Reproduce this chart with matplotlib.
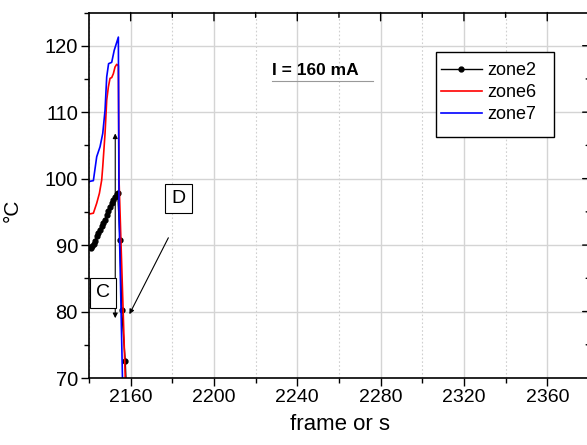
import matplotlib
matplotlib.use("Agg")
import matplotlib.pyplot as plt
from matplotlib.ticker import MultipleLocator
from matplotlib.patches import Rectangle

plt.rcParams['font.family'] = ['Liberation Sans', 'DejaVu Sans']

# zone2 (black dots), zone6 (red), zone7 (blue)
z2_x = [2140.8, 2141.6, 2142.3, 2142.9, 2143.7, 2144.5, 2145.3, 2146.1, 2146.9,
        2147.7, 2148.5, 2149.3, 2150.1, 2150.9, 2151.7, 2152.5, 2153.3, 2153.8,
        2154.9, 2155.7, 2157.4, 2158.5]
z2_y = [89.6, 89.8, 90.1, 90.6, 91.3, 91.8, 92.3, 92.8, 93.3,
        93.8, 94.6, 95.1, 95.8, 96.3, 96.8, 97.3, 97.7, 97.9,
        90.7, 80.2, 72.5, 64.0]

z6_x = [2140.0, 2140.5, 2142.1, 2143.7, 2145.0, 2146.1, 2146.6, 2147.7, 2148.5,
        2149.3, 2150.1, 2150.9, 2151.7, 2152.5, 2153.3, 2154.1, 2154.4, 2157.6]
z6_y = [94.7, 94.7, 94.8, 96.3, 97.8, 99.8, 101.8, 106.8, 111.8,
        113.8, 115.1, 115.2, 115.8, 116.8, 117.2, 117.0, 100.0, 68.0]

z7_x = [2140.0, 2140.5, 2142.1, 2143.7, 2145.3, 2146.6, 2147.7, 2148.5, 2149.4,
        2150.9, 2152.1, 2153.3, 2154.1, 2154.4, 2156.2]
z7_y = [99.5, 99.6, 99.7, 103.3, 104.8, 106.8, 110.3, 115.3, 117.3,
        117.5, 119.3, 120.5, 121.3, 95.0, 68.0]

fig = plt.figure(figsize=(5.87, 4.45), dpi=100)
ax = fig.add_axes([89/587, 1-378/445, 502/587, 365.5/445])

ax.plot(z2_x, z2_y, color='black', marker='o', markersize=3.5, lw=1.0, label='zone2')
ax.plot(z6_x, z6_y, color='#ff0000', lw=1.2, label='zone6')
ax.plot(z7_x, z7_y, color='#0000ff', lw=1.2, label='zone7')

ax.set_xlim(2140, 2381)
ax.set_ylim(70, 125)
ax.xaxis.set_minor_locator(MultipleLocator(20))
ax.yaxis.set_minor_locator(MultipleLocator(5))
ax.set_xticks(range(2160, 2361, 40))
ax.set_yticks(range(70, 121, 10))

ax.grid(True, which='major', color='#d4d4d4', lw=1.0)
ax.grid(True, which='minor', axis='x', color='#cfcfcf', lw=0.8, ls=(0, (1.5, 2)))
ax.set_axisbelow(True)

ax.tick_params(which='major', direction='out', length=6, width=1, labelsize=14, pad=2,
               top=False, right=False)
ax.tick_params(axis='y', which='major', labelsize=14.5)
ax.tick_params(which='minor', direction='out', length=3.5, width=1, top=False, right=False)
for s in ax.spines.values():
    s.set_linewidth(1.2)

# inward ticks on top and right spines
for pos in range(2160, 2380, 20):
    ln = 6 if pos % 40 == 0 else 3.5
    ax.annotate('', xy=(pos, 1), xycoords=('data', 'axes fraction'),
                xytext=(0, -ln), textcoords='offset points',
                arrowprops=dict(arrowstyle='-', lw=1, shrinkA=0, shrinkB=0))
for val in range(75, 125, 5):
    ln = 6 if val % 10 == 0 else 3.5
    ax.annotate('', xy=(1, val), xycoords=('axes fraction', 'data'),
                xytext=(-ln, 0), textcoords='offset points',
                arrowprops=dict(arrowstyle='-', lw=1, shrinkA=0, shrinkB=0))

ax.set_xlabel('frame or s', fontsize=16, labelpad=6)
fig.text(12/587, 1-210/445, '°C', rotation=90, fontsize=15, ha='center', va='center')

# annotations
ax.annotate('', xy=(2152.6, 106.8), xytext=(2152.6, 79.0),
            arrowprops=dict(arrowstyle='<|-|>', lw=0.8, color='black',
                            mutation_scale=7, shrinkA=0, shrinkB=0))
ax.annotate('', xy=(2159.4, 79.6), xytext=(2178.1, 91.1),
            arrowprops=dict(arrowstyle='-|>', lw=0.8, color='black',
                            mutation_scale=7, shrinkA=0, shrinkB=0))
box = dict(boxstyle='square,pad=0.32', fc='white', ec='black', lw=0.8)
ax.text(2146.7, 82.8, 'C', fontsize=14, ha='center', va='center', bbox=box)
ax.text(2183.0, 97.0, 'D', fontsize=14, ha='center', va='center', bbox=box)

ax.text(2228, 116.2, 'I = 160 mA', fontsize=12.5, fontweight='bold', ha='left', va='center')
ax.plot([2228, 2276.5], [114.7, 114.7], color='#999999', lw=0.8)

# legend: entries without frame, frame drawn as a box like the original
leg = ax.legend(loc='upper left', bbox_to_anchor=(441/587, 1-62/445),
                bbox_transform=fig.transFigure,
                fontsize=13, frameon=False,
                handlelength=2.25, handletextpad=0.3, labelspacing=0.28,
                borderpad=0.0, borderaxespad=0)
leg.set_zorder(6)
ax.add_patch(Rectangle((436/587, 1-137/445), 118/587, 85/445, transform=fig.transFigure,
                       fc='white', ec='black', lw=1.0, zorder=5))

fig.savefig('out.png', dpi=100)
